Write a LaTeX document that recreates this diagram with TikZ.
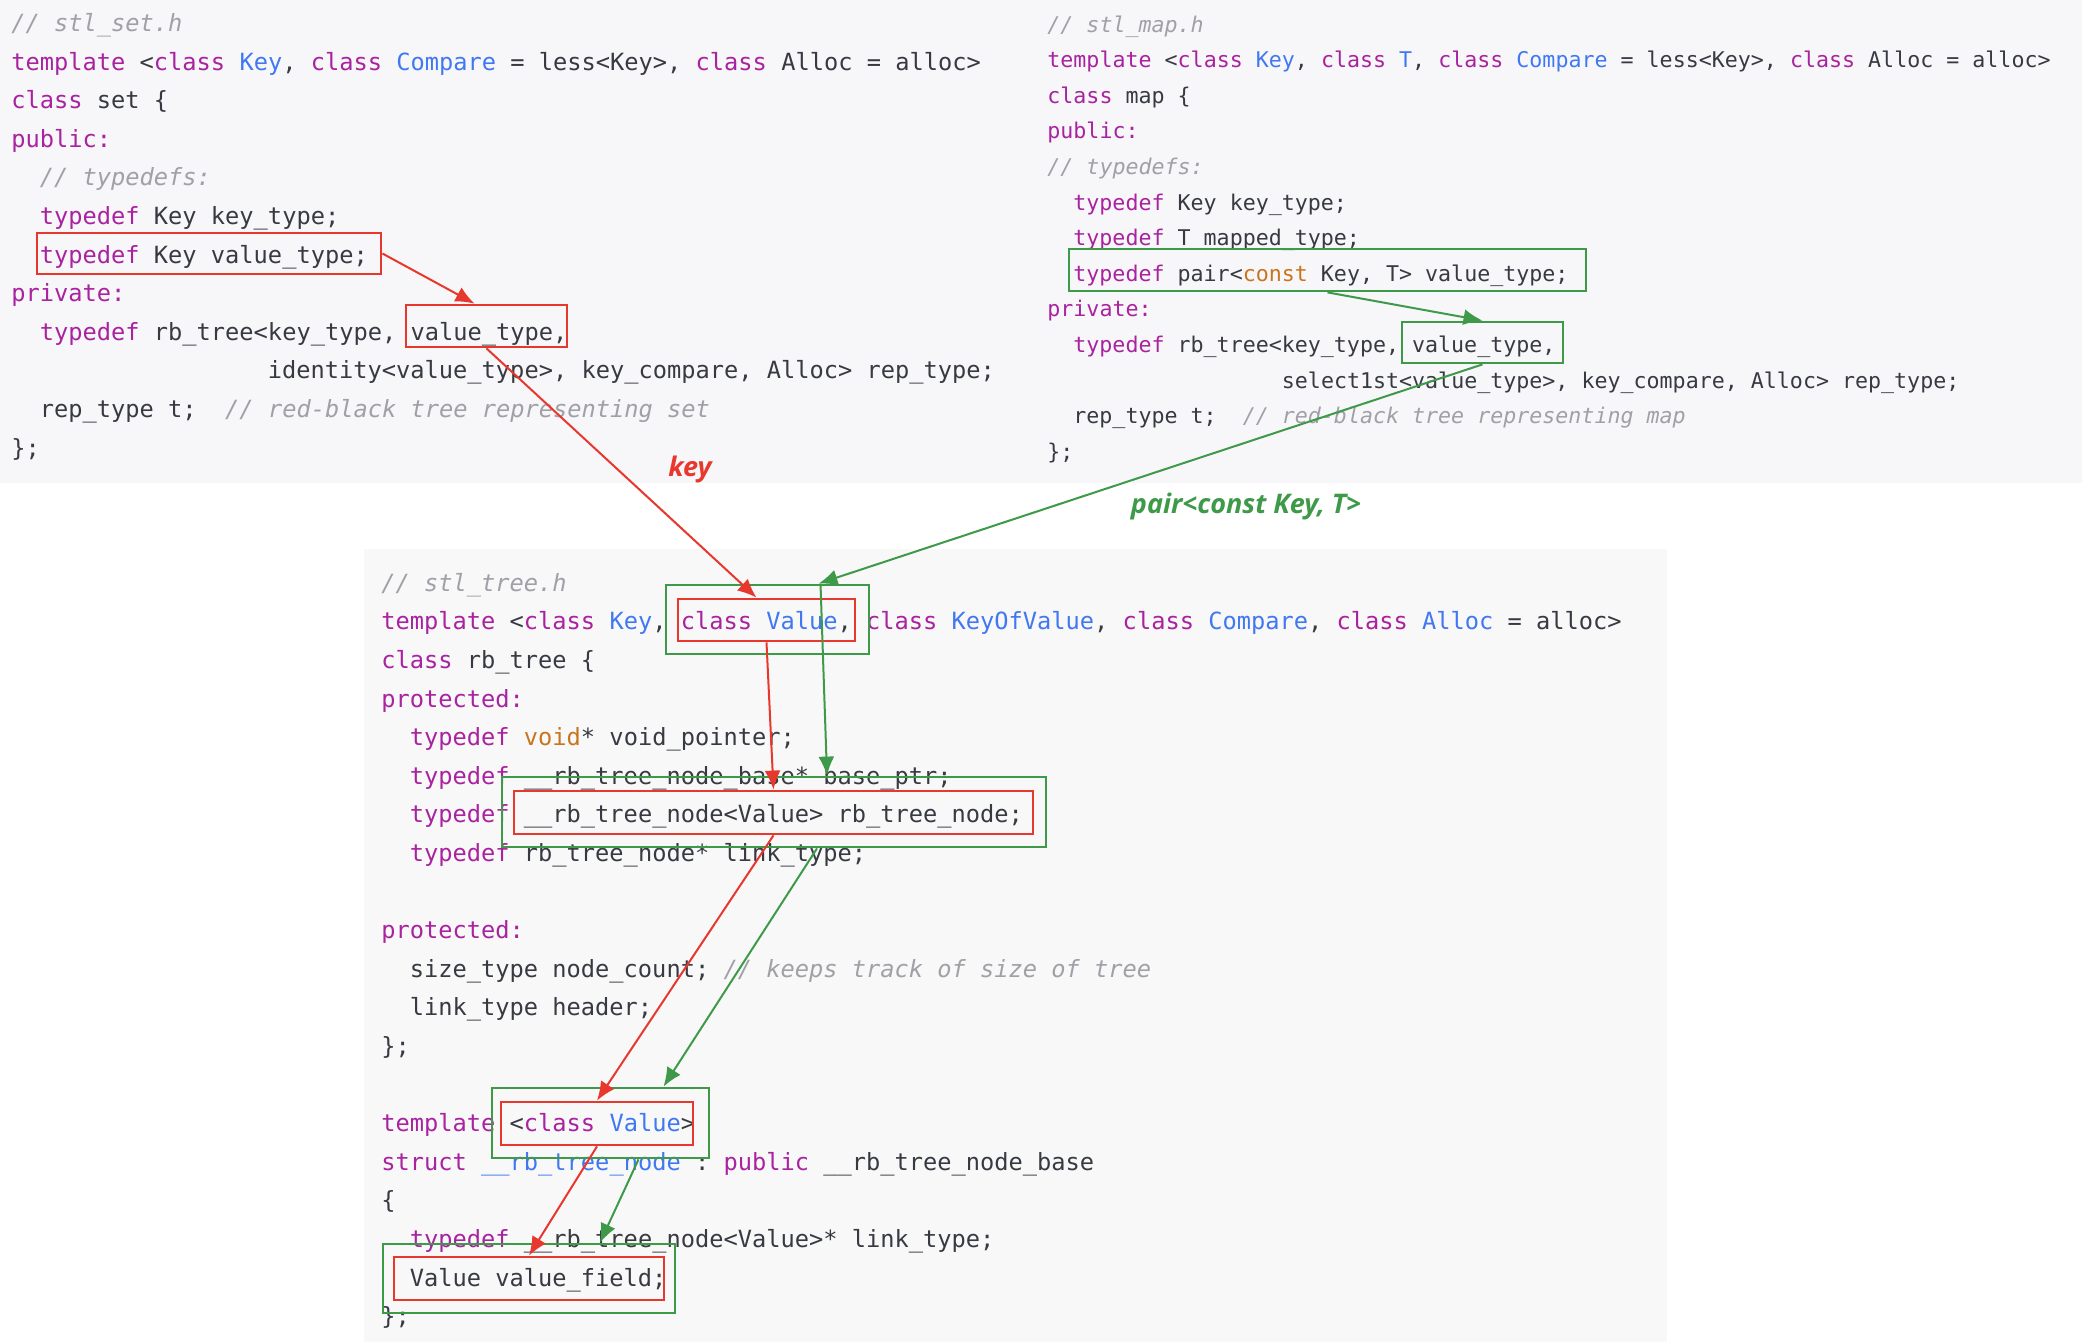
\documentclass[tikz,border=0pt]{standalone}
\usepackage{fontspec}
\setmonofont{DejaVu Sans Mono}
\setsansfont{Open Sans}
\usetikzlibrary{arrows.meta, calc, fit}
\definecolor{kwc}{HTML}{A9229F}
\definecolor{tyc}{HTML}{4078F2}
\definecolor{cmc}{HTML}{A0A1A7}
\definecolor{otc}{HTML}{C9751E}
\definecolor{txc}{HTML}{383A42}
\definecolor{cred}{HTML}{E8372C}
\definecolor{cgreen}{HTML}{3E9A48}
\definecolor{topbg}{HTML}{F7F7F9}
\definecolor{panelbg}{HTML}{F8F8F9}
\newcommand{\kw}[1]{\textcolor{kwc}{#1}}
\newcommand{\ty}[1]{\textcolor{tyc}{#1}}
\newcommand{\ot}[1]{\textcolor{otc}{#1}}
\newcommand{\cm}[1]{\textcolor{cmc}{\itshape #1}}
\tikzset{
  code/.style={font=\ttfamily\fontsize{11.84pt}{14pt}\selectfont, text=txc, anchor=base west, inner sep=0pt},
  mapcode/.style={code, font=\ttfamily\fontsize{10.82pt}{13pt}\selectfont},
  hlbox/.style={draw=#1, line width=1.4pt, inner sep=0pt},
  hlbox/.default=cred,
  link/.style={-{Latex[length=9.5pt, width=8pt]}, draw=#1, line width=1pt},
  link/.default=cred,
  tag/.style={font=\sffamily\bfseries\itshape\fontsize{13.5pt}{16pt}\selectfont, text=#1},
}

\begin{document}
\begin{tikzpicture}[x=0.5pt, y=-0.5pt]
  \useasboundingbox (0,0) rectangle (2082,1342);
  \fill[white] (0,0) rectangle (2082,1342);
  \fill[topbg] (0,0) rectangle (2082,483);
  \fill[panelbg] (364,549) rectangle (1667,1342);

  % stl_set.h
  \node[code] (set1) at (11,31.5) {\cm{// stl\_set.h}};
  \node[code] (set2) at (11,70.1) {\kw{template} <\kw{class} \ty{Key}, \kw{class} \ty{Compare} = less<Key>, \kw{class} Alloc = alloc>};
  \node[code] (set3) at (11,108.7) {\kw{class} set \{};
  \node[code] (set4) at (11,147.3) {\kw{public:}};
  \node[code] (set5) at (39.5,185.9) {\cm{// typedefs:}};
  \node[code] (set6) at (39.5,224.5) {\kw{typedef} Key key\_type;};
  \node[code] (set7) at (39.5,263.1) {\kw{typedef} Key value\_type;};
  \node[code] (set8) at (11,301.7) {\kw{private:}};
  \node[code] (set9) at (39.5,340.3) {\kw{typedef} rb\_tree<key\_type, value\_type,};
  \node[code] (set10) at (267.5,378.9) {identity<value\_type>, key\_compare, Alloc> rep\_type;};
  \node[code] (set11) at (39.5,417.5) {rep\_type t;~~\cm{// red-black tree representing set}};
  \node[code] (set12) at (11,456.1) {\};};

  % stl_map.h
  \node[mapcode] (map1) at (1047,32.2) {\cm{// stl\_map.h}};
  \node[mapcode] (map2) at (1047,67.8) {\kw{template} <\kw{class} \ty{Key}, \kw{class} \ty{T}, \kw{class} \ty{Compare} = less<Key>, \kw{class} Alloc = alloc>};
  \node[mapcode] (map3) at (1047,103.4) {\kw{class} map \{};
  \node[mapcode] (map4) at (1047,139.0) {\kw{public:}};
  \node[mapcode] (map5) at (1047,174.6) {\cm{// typedefs:}};
  \node[mapcode] (map6) at (1073,210.2) {\kw{typedef} Key key\_type;};
  \node[mapcode] (map7) at (1073,245.8) {\kw{typedef} T mapped\_type;};
  \node[mapcode] (map8) at (1073,281.4) {\kw{typedef} pair<\ot{const} Key, T> value\_type;};
  \node[mapcode] (map9) at (1047,317.0) {\kw{private:}};
  \node[mapcode] (map10) at (1073,352.6) {\kw{typedef} rb\_tree<key\_type, value\_type,};
  \node[mapcode] (map11) at (1281.5,388.2) {select1st<value\_type>, key\_compare, Alloc> rep\_type;};
  \node[mapcode] (map12) at (1073,423.8) {rep\_type t;~~\cm{// red-black tree representing map}};
  \node[mapcode] (map13) at (1047,459.4) {\};};

  % stl_tree.h
  \node[code] (tree1) at (381,591.3) {\cm{// stl\_tree.h}};
  \node[code] (tree2) at (381,629.9) {\kw{template} <\kw{class} \ty{Key}, \kw{class} \ty{Value}, \kw{class} \ty{KeyOfValue}, \kw{class} \ty{Compare}, \kw{class} \ty{Alloc} = alloc>};
  \node[code] (tree3) at (381,668.5) {\kw{class} rb\_tree \{};
  \node[code] (tree4) at (381,707.1) {\kw{protected:}};
  \node[code] (tree5) at (409.5,745.7) {\kw{typedef} \ot{void}* void\_pointer;};
  \node[code] (tree6) at (409.5,784.3) {\kw{typedef} \_\_rb\_tree\_node\_base* base\_ptr;};
  \node[code] (tree7) at (409.5,822.9) {\kw{typedef} \_\_rb\_tree\_node<Value> rb\_tree\_node;};
  \node[code] (tree8) at (409.5,861.5) {\kw{typedef} rb\_tree\_node* link\_type;};
  \node[code] (tree9) at (381,938.7) {\kw{protected:}};
  \node[code] (tree10) at (409.5,977.3) {size\_type node\_count; \cm{// keeps track of size of tree}};
  \node[code] (tree11) at (409.5,1015.9) {link\_type header;};
  \node[code] (tree12) at (381,1054.5) {\};};
  \node[code] (tree13) at (381,1131.7) {\kw{template} <\kw{class} \ty{Value}>};
  \node[code] (tree14) at (381,1170.3) {\kw{struct} \ty{\_\_rb\_tree\_node} : \kw{public} \_\_rb\_tree\_node\_base};
  \node[code] (tree15) at (381,1208.9) {\{};
  \node[code] (tree16) at (409.5,1247.5) {\kw{typedef} \_\_rb\_tree\_node<Value>* link\_type;};
  \node[code] (tree17) at (409.5,1286.1) {Value value\_field;};
  \node[code] (tree18) at (381,1324.7) {\};};

  % highlight boxes
  \node[hlbox, fit={(37,233) (381,274)}] (setVT) {};
  \node[hlbox, fit={(406,305) (567,347)}] (setArg) {};
  \node[hlbox=cgreen, fit={(1069,249) (1586,291)}] (mapVT) {};
  \node[hlbox=cgreen, fit={(1402,322) (1563,363)}] (mapArg) {};
  \node[hlbox=cgreen, fit={(666,585) (869,654)}] (valG) {};
  \node[hlbox, fit={(678,599) (855,641)}] (valR) {};
  \node[hlbox=cgreen, fit={(502,777) (1046,847)}] (nodeG) {};
  \node[hlbox, fit={(514,791) (1033,834)}] (nodeR) {};
  \node[hlbox=cgreen, fit={(492,1088) (709,1158)}] (cvG) {};
  \node[hlbox, fit={(501,1102) (693,1145)}] (cvR) {};
  \node[hlbox=cgreen, fit={(383,1244) (675,1313)}] (vfG) {};
  \node[hlbox, fit={(394,1257) (664,1300)}] (vfR) {};

  % labels
  \node[tag=cred] (keytag) at (690,469) {key};
  \node[tag=cgreen] (pairtag) at (1246,506) {pair<const Key, T>};

  % set path
  \draw[link] (setVT.east) -- ($(setArg.north)+(-12,0)$);
  \draw[link] (setArg.south) -- ($(valR.north)+(-10,0)$);
  \draw[link] (valR.south) -- (nodeR.north);
  \draw[link] (nodeR.south) -- (cvR.north);
  \draw[link] (cvR.south) -- (vfR.north);
  % map path
  \draw[link=cgreen] (mapVT.south) -- (mapArg.north);
  \draw[link=cgreen] (mapArg.south) -- ($(valG.north)+(51,0)$);
  \draw[link=cgreen] ($(valG.north)+(53,0)$) -- ($(nodeG.north)+(53,0)$);
  \draw[link=cgreen] ($(nodeG.south)+(43,0)$) -- ($(cvG.north)+(63,0)$);
  \draw[link=cgreen] ($(cvG.south)+(38,0)$) -- ($(vfG.north)+(71,0)$);
\end{tikzpicture}
\end{document}
